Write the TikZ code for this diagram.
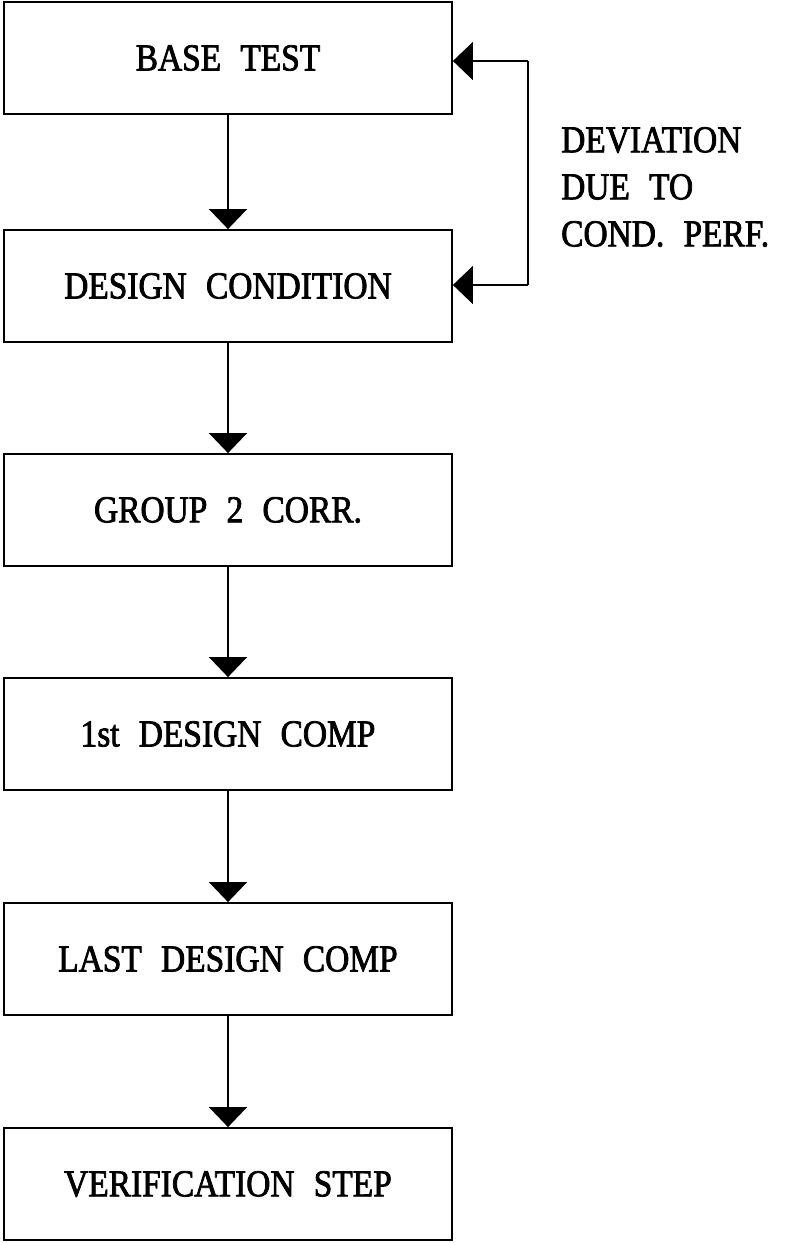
\documentclass[tikz,border=0pt]{standalone}
\usepackage{fontspec}
\setmainfont{Liberation Serif}[FakeStretch=0.88, WordSpace=2.3, FakeBold=2]
\usetikzlibrary{arrows.meta}
\begin{document}
\begin{tikzpicture}[x=1pt,y=-1pt,
  box/.style={draw, line width=1.8pt, minimum width=448pt, minimum height=112pt,
    inner sep=0pt, font=\fontsize{38}{42}\selectfont},
  flow/.style={line width=1.4pt, -{Triangle[width=38pt,length=20pt]}},
  lbl/.style={align=left, anchor=west, inner sep=0pt, font=\fontsize{38}{47}\selectfont}]
\useasboundingbox (0,0) rectangle (790,1243);
\node[box] (b1) at (228,58) {BASE TEST};
\node[box] (b2) at (228,286) {DESIGN CONDITION};
\node[box] (b3) at (228,510) {GROUP 2 CORR.};
\node[box] (b4) at (228,734) {1st DESIGN COMP};
\node[box] (b5) at (228,959) {LAST DESIGN COMP};
\node[box] (b6) at (228,1184) {VERIFICATION STEP};
\draw[flow] (b1) -- (b2);
\draw[flow] (b2) -- (b3);
\draw[flow] (b3) -- (b4);
\draw[flow] (b4) -- (b5);
\draw[flow] (b5) -- (b6);
\coordinate (r1) at (528,61);
\coordinate (r2) at (528,285);
\draw[line width=1.4pt] (r1) -- (r2);
\draw[flow] (r1) -- (b1.east |- r1);
\draw[flow] (r2) -- (b2.east |- r2);
\node[lbl] (dev) at (561,187) {DEVIATION\\DUE TO\\COND. PERF.};
\end{tikzpicture}
\end{document}
